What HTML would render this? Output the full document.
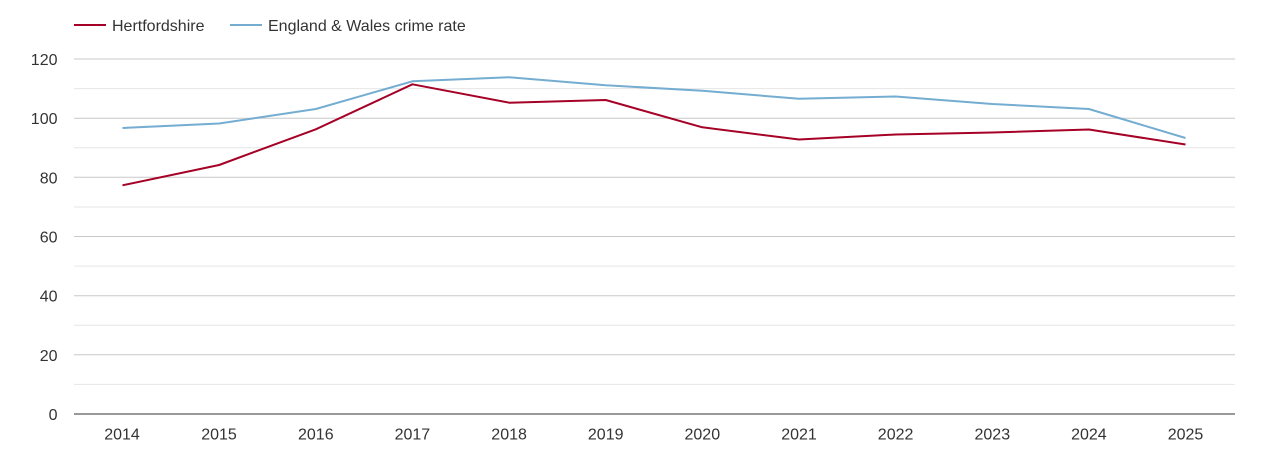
<!DOCTYPE html>
<html>
<head>
<meta charset="utf-8">
<style>
html,body{margin:0;padding:0;background:#fff;}
body{width:1270px;height:450px;overflow:hidden;}
svg text{font-family:"Liberation Sans",Arial,sans-serif;fill:#333;}
</style>
</head>
<body>
<svg width="1270" height="450" viewBox="0 0 1270 450" xmlns="http://www.w3.org/2000/svg">
  <!-- legend -->
  <line x1="74" y1="25" x2="106" y2="25" stroke="#a50026" stroke-width="2"/>
  <text x="112" y="31" font-size="16">Hertfordshire</text>
  <line x1="230" y1="25" x2="262" y2="25" stroke="#74add1" stroke-width="2"/>
  <text x="268" y="31" font-size="16">England &amp; Wales crime rate</text>

  <!-- minor gridlines -->
  <g stroke="#e6e6e6" stroke-width="1">
    <line x1="74" y1="88.6" x2="1235" y2="88.6"/>
    <line x1="74" y1="147.8" x2="1235" y2="147.8"/>
    <line x1="74" y1="207" x2="1235" y2="207"/>
    <line x1="74" y1="266.1" x2="1235" y2="266.1"/>
    <line x1="74" y1="325.3" x2="1235" y2="325.3"/>
    <line x1="74" y1="384.4" x2="1235" y2="384.4"/>
  </g>
  <!-- major gridlines -->
  <g stroke="#c8c8c8" stroke-width="1">
    <line x1="74" y1="59" x2="1235" y2="59"/>
    <line x1="74" y1="118.2" x2="1235" y2="118.2"/>
    <line x1="74" y1="177.3" x2="1235" y2="177.3"/>
    <line x1="74" y1="236.5" x2="1235" y2="236.5"/>
    <line x1="74" y1="295.7" x2="1235" y2="295.7"/>
    <line x1="74" y1="354.8" x2="1235" y2="354.8"/>
  </g>
  <line x1="74" y1="414" x2="1235" y2="414" stroke="#333" stroke-width="1"/>

  <!-- y labels -->
  <g font-size="16" text-anchor="end">
    <text x="57.5" y="65">120</text>
    <text x="57.5" y="124.2">100</text>
    <text x="57.5" y="183.3">80</text>
    <text x="57.5" y="242.5">60</text>
    <text x="57.5" y="301.7">40</text>
    <text x="57.5" y="360.8">20</text>
    <text x="57.5" y="420">0</text>
  </g>
  <!-- x labels -->
  <g font-size="16" text-anchor="middle">
    <text x="122" y="439.5">2014</text>
    <text x="219" y="439.5">2015</text>
    <text x="315.8" y="439.5">2016</text>
    <text x="412.4" y="439.5">2017</text>
    <text x="509.1" y="439.5">2018</text>
    <text x="605.7" y="439.5">2019</text>
    <text x="702.3" y="439.5">2020</text>
    <text x="799" y="439.5">2021</text>
    <text x="895.6" y="439.5">2022</text>
    <text x="992.3" y="439.5">2023</text>
    <text x="1088.9" y="439.5">2024</text>
    <text x="1185.5" y="439.5">2025</text>
  </g>

  <!-- E&W series -->
  <polyline fill="none" stroke="#74add1" stroke-width="2" stroke-linejoin="round"
    points="122.5,128 219.1,123.5 315.8,109 412.4,81.3 509.1,77.3 605.7,85.3 702.3,90.7 799,98.8 895.6,96.5 992.3,104 1088.9,109 1185.5,138"/>
  <!-- Hertfordshire series -->
  <polyline fill="none" stroke="#a50026" stroke-width="2" stroke-linejoin="round"
    points="122.5,185.3 219.1,165 315.8,129.3 412.4,84.3 509.1,102.7 605.7,100 702.3,127.3 799,139.5 895.6,134.5 992.3,132.5 1088.9,129.5 1185.5,144.5"/>
</svg>
</body>
</html>
